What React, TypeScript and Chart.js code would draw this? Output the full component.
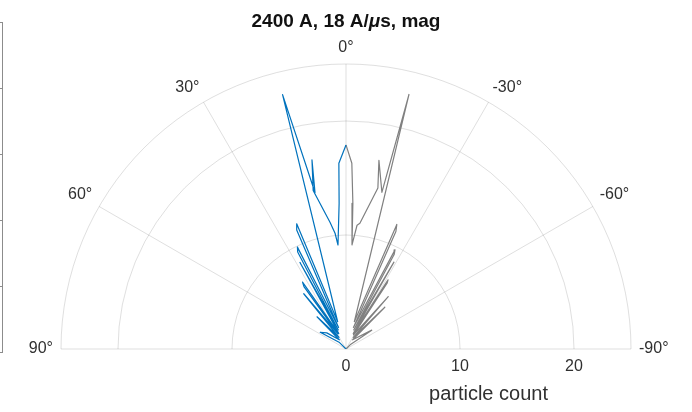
import React, { useEffect, useRef } from "react";
import { Chart, registerables } from "chart.js";

Chart.register(...registerables);

// Polar line data: angle in degrees (0 = up, positive = counter-clockwise) and particle count.
const blueTheta = [0, 2.2, 2.7, 4.4, 5.4, 7.2, 11.7, 10.2, 11.2, 14.0, 17.0, 21.5, 22.5, 19.0, 25.5, 26.5, 22.0, 28.0, 25.0, 33.0, 34.0, 28.0, 37.4, 31.0, 42.0, 36.0, 50.0, 57.0, 45.0, 0];
const blueCount = [17.9, 16.3, 12.8, 9.15, 10.2, 11.2, 14.2, 16.85, 14.0, 23.0, 2.5, 11.8, 11.3, 2.0, 9.9, 9.5, 1.8, 8.6, 1.5, 7.0, 6.6, 1.5, 6.1, 1.2, 3.8, 1.0, 2.2, 2.7, 0.8, 0];

const grayTheta = [0, -1.8, -2.7, -3.3, -5.1, -6.3, -11.2, -9.9, -12.9, -13.9, -17.0, -22.2, -23.0, -19.0, -26.3, -27.0, -22.0, -28.9, -25.0, -31.3, -32.0, -28.0, -38.9, -32.0, -42.9, -36.0, -53.8, -45.0, 0];
const grayCount = [17.9, 16.3, 12.8, 9.15, 10.9, 11.1, 14.4, 16.8, 14.1, 23.0, 2.5, 11.8, 11.2, 2.0, 9.7, 9.3, 1.8, 8.7, 1.5, 7.1, 6.8, 1.4, 5.9, 1.2, 5.0, 1.0, 2.8, 0.6, 0];

const thetaTicks = [90, 60, 30, 0, -30, -60, -90];
const radialTicks = [0, 10, 20];
const radialMax = 25;

const titleText = ["2400 A, 18 A/", "\u03bc", "s, mag"];
const radialLabel = "particle count";

const FONT = "'Liberation Sans', Arial, Helvetica, sans-serif";
const BLUE = "#0072BD";
const GRAY = "#808080";
const GRID = "rgba(38,38,38,0.15)";
const TEXT = "#303030";

const toXY = (theta: number[], count: number[]) =>
  theta.map((t, i) => {
    const a = (t * Math.PI) / 180;
    return { x: -count[i] * Math.sin(a), y: count[i] * Math.cos(a) };
  });

const polarFrame = {
  id: "polarFrame",
  beforeDatasetsDraw(chart: any) {
    const { ctx, scales } = chart;
    const xs = scales.x;
    const ys = scales.y;
    const cx = xs.getPixelForValue(0);
    const cy = ys.getPixelForValue(0);
    const rad = (r: number) => xs.getPixelForValue(r) - cx;
    const R = rad(radialMax);
    ctx.save();
    ctx.strokeStyle = GRID;
    ctx.lineWidth = 1;
    [...radialTicks.filter((r) => r > 0), radialMax].forEach((r) => {
      ctx.beginPath();
      ctx.arc(cx, cy, rad(r), Math.PI, 2 * Math.PI);
      ctx.stroke();
    });
    thetaTicks.forEach((t) => {
      const a = (t * Math.PI) / 180;
      ctx.beginPath();
      ctx.moveTo(cx, cy);
      ctx.lineTo(cx - R * Math.sin(a), cy - R * Math.cos(a));
      ctx.stroke();
    });
    ctx.restore();
  },
  afterDraw(chart: any) {
    const { ctx, scales } = chart;
    const xs = scales.x;
    const ys = scales.y;
    const cx = xs.getPixelForValue(0);
    const cy = ys.getPixelForValue(0);
    const R = xs.getPixelForValue(radialMax) - cx;
    ctx.save();

    // edge of the neighbouring axes box
    ctx.strokeStyle = "#8c8c8c";
    ctx.lineWidth = 1;
    ctx.beginPath();
    ctx.moveTo(2.5, 22);
    ctx.lineTo(2.5, 352);
    for (let k = 0; k <= 5; k++) {
      const yy = 22 + k * 66 + 0.5;
      ctx.moveTo(0, yy);
      ctx.lineTo(3, yy);
    }
    ctx.stroke();

    // angle labels
    ctx.fillStyle = TEXT;
    ctx.font = `16px ${FONT}`;
    const lr = R + 8;
    thetaTicks.forEach((t) => {
      const a = (t * Math.PI) / 180;
      const px = cx - lr * Math.sin(a);
      const py = cy - lr * Math.cos(a);
      ctx.textAlign = t > 0 ? "right" : t < 0 ? "left" : "center";
      ctx.textBaseline = Math.abs(t) === 90 ? "middle" : "bottom";
      ctx.fillText(`${t}\u00b0`, px, py);
    });

    // radial tick labels
    ctx.textAlign = "center";
    ctx.textBaseline = "top";
    radialTicks.forEach((r) => {
      ctx.fillText(String(r), xs.getPixelForValue(r), cy + 10);
    });

    // radial axis label
    ctx.font = `20px ${FONT}`;
    ctx.fillText(radialLabel, xs.getPixelForValue(radialMax / 2), cy + 35);

    // title with italic mu
    const fonts = [`bold 19px ${FONT}`, `italic bold 19px ${FONT}`, `bold 19px ${FONT}`];
    let total = 0;
    const widths = titleText.map((s, i) => {
      ctx.font = fonts[i];
      const w = ctx.measureText(s).width;
      total += w;
      return w;
    });
    let tx = cx - total / 2;
    ctx.textAlign = "left";
    ctx.textBaseline = "middle";
    ctx.fillStyle = "#111111";
    titleText.forEach((s, i) => {
      ctx.font = fonts[i];
      ctx.fillText(s, tx, 22);
      tx += widths[i];
    });
    ctx.restore();
  },
};

export default function App() {
  const ref = useRef<HTMLCanvasElement | null>(null);
  useEffect(() => {
    if (!ref.current) return;
    const chart = new Chart(ref.current, {
      type: "scatter",
      data: {
        datasets: [
          {
            data: toXY(blueTheta, blueCount),
            showLine: true,
            borderColor: BLUE,
            borderWidth: 1.2,
            pointRadius: 0,
            tension: 0,
            borderJoinStyle: "round",
          },
          {
            data: toXY(grayTheta, grayCount),
            showLine: true,
            borderColor: GRAY,
            borderWidth: 1.2,
            pointRadius: 0,
            tension: 0,
            borderJoinStyle: "round",
          },
        ],
      },
      options: {
        animation: false,
        responsive: false,
        devicePixelRatio: 1,
        layout: { padding: { left: 61, right: 61, top: 64, bottom: 63 } },
        scales: {
          x: { type: "linear", min: -radialMax, max: radialMax, display: false },
          y: { type: "linear", min: 0, max: radialMax, display: false },
        },
        plugins: { legend: { display: false }, tooltip: { enabled: false }, title: { display: false } },
      },
      plugins: [polarFrame],
    });
    return () => chart.destroy();
  }, []);
  return (
    <div style={{ position: "fixed", left: 0, top: 0, width: 692, height: 412, background: "#fff" }}>
      <canvas ref={ref} width={692} height={412} />
    </div>
  );
}
